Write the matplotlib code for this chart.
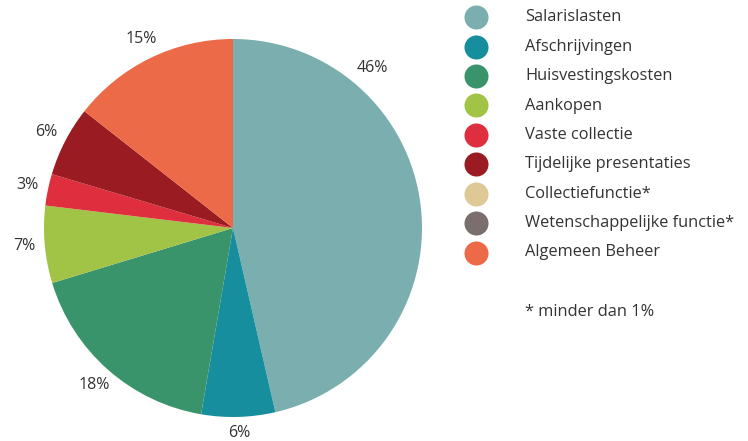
import matplotlib
matplotlib.use("Agg")
import matplotlib.pyplot as plt
import numpy as np

categories = ["Salarislasten", "Afschrijvingen", "Huisvestingskosten", "Aankopen",
              "Vaste collectie", "Tijdelijke presentaties", "Collectiefunctie*",
              "Wetenschappelijke functie*", "Algemeen Beheer"]
values = [46.4, 6.3, 17.6, 6.6, 2.7, 6.0, 0.0, 0.0, 14.4]
pct_labels = ["46%", "6%", "18%", "7%", "3%", "6%", "", "", "15%"]
colors = ["#7BAEAE", "#178E9E", "#3A946B", "#A1C447", "#DF2E3D", "#9A1C22",
          "#DDC896", "#7A6E6E", "#EC6A48"]
footnote = "* minder dan 1%"

plt.rcParams['font.family'] = ['Open Sans', 'DejaVu Sans']
W, H = 748, 441
fig = plt.figure(figsize=(W / 100, H / 100), dpi=100)

cx, cy, r = 233, 228, 189
ax = fig.add_axes([(cx - r) / W, (H - cy - r) / H, 2 * r / W, 2 * r / H])
wedges, texts = ax.pie(values, colors=colors, startangle=90, counterclock=False,
                       labels=pct_labels, labeldistance=1.11, radius=1,
                       textprops=dict(fontsize=11.5, color="#333333"),
                       wedgeprops=dict(linewidth=0))
for t in texts:
    t.set_ha("center")
    t.set_va("center")
# first label sits higher up along the rim
ang = np.deg2rad(90 - 41)
texts[0].set_position((1.12 * np.cos(ang), 1.12 * np.sin(ang)))
# bottom label sits closer to the rim
x1, y1 = texts[1].get_position()
texts[1].set_position((x1 * 1.085 / 1.11, y1 * 1.085 / 1.11))
ax.set_xlim(-1, 1)
ax.set_ylim(-1, 1)
ax.set_aspect("equal")
ax.axis("off")

# legend
lx0 = 440 / W
lax = fig.add_axes([lx0, 0, 1 - lx0, 1])
lax.set_xlim(440, 748)
lax.set_ylim(441, 0)
lax.axis("off")
row0, step = 17.3, 29.4
for i, (c, name) in enumerate(zip(colors, categories)):
    y = row0 + i * step
    lax.scatter([476], [y], s=300, color=c, linewidths=0)
    lax.text(525, y, name, fontsize=11.8, color="#333333", va="center", ha="left")
lax.text(525, 311.7, footnote, fontsize=11.8, color="#333333", va="center", ha="left")

fig.savefig("out.png", dpi=100)
